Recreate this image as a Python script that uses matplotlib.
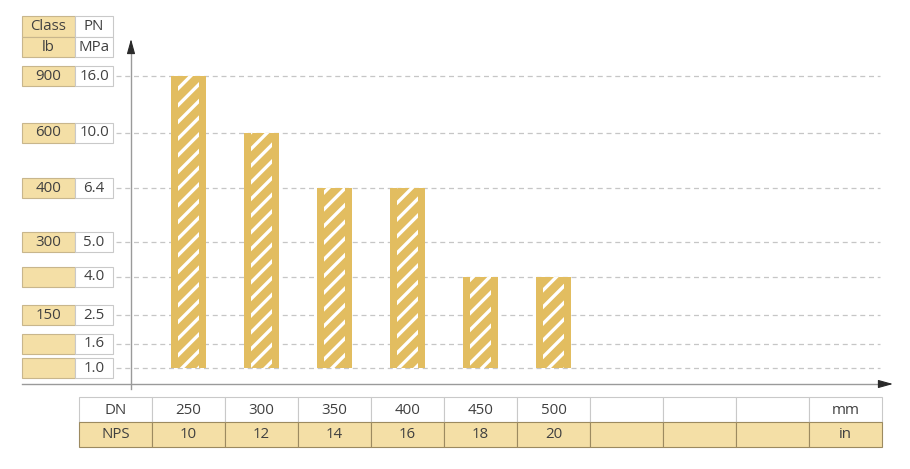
import matplotlib.pyplot as plt
from matplotlib.patches import Rectangle
from matplotlib.transforms import blended_transform_factory

plt.rcParams['font.family'] = ['Open Sans', 'DejaVu Sans']
plt.rcParams['hatch.linewidth'] = 2.4

# pressure levels (PN, MPa) and the matching ANSI class (lb)
pn_levels = ['1.0', '1.6', '2.5', '4.0', '5.0', '6.4', '10.0', '16.0']
class_lb = ['', '', '150', '', '300', '400', '600', '900']
# where each level sits on the chart (px above the x axis), it is not to scale
level_pos = [16, 40.5, 69, 107, 142, 196, 251, 307.5]

# nominal sizes
dn_mm = ['250', '300', '350', '400', '450', '500', '', '', '']
nps_in = ['10', '12', '14', '16', '18', '20', '', '', '']
# max pressure rating per size
bar_pn = ['16.0', '10.0', '6.4', '6.4', '4.0', '4.0']

BAR = '#e2bd60'
TAN = '#f4dfa6'
TXT = '#404040'
EDGE = '#c9c9c9'
FS = 10.8

W, H = 910, 469
fig = plt.figure(figsize=(W / 100, H / 100), dpi=100)

# main axes: one unit per table column on x, px on y
col_w, col0 = 73.0, 188.5
ax_l, ax_r, ax_b, ax_t = 131, 888, 384, 40
ax = fig.add_axes([ax_l / W, (H - ax_b) / H, (ax_r - ax_l) / W, (ax_b - ax_t) / H])
ax.set_xlim((ax_l - col0) / col_w, (ax_r - col0) / col_w)
ax.set_ylim(0, ax_b - ax_t)
ax.axis('off')

# overlay in figure pixels (y down) for tables and arrows
ov = fig.add_axes([0, 0, 1, 1])
ov.set_xlim(0, W)
ov.set_ylim(H, 0)
ov.axis('off')

tr_left = blended_transform_factory(ov.transData, ax.transData)
tr_bot = blended_transform_factory(ax.transData, ov.transData)

pos = dict(zip(pn_levels, level_pos))
base = pos['1.0']
xs = list(range(len(bar_pn)))
heights = [pos[v] - base for v in bar_pn]

# bars: solid body plus white stripes in the middle
ax.bar(xs, heights, bottom=base, width=0.47, color=BAR, lw=0, zorder=2)
ax.bar(xs, heights, bottom=base, width=0.30, color='none', edgecolor='white',
       hatch='//', lw=0, zorder=3)

# dashed level lines
for p in level_pos:
    ax.plot([116, 880], [p, p], transform=tr_left, ls=(0, (4, 3)), color='#c6c6c6',
            lw=0.9, zorder=1, clip_on=False)

# left table: class / PN
def cell(x, y, w, h, fc, ec, txt, tr, tc=TXT):
    ov.add_patch(Rectangle((x, y), w, h, transform=tr, fc=fc, ec=ec, lw=0.8, clip_on=False))
    if txt:
        ov.text(x + w / 2, y + h / 2, txt, transform=tr, ha='center', va='center',
                fontsize=FS, color=tc, clip_on=False)

cell(22, 16, 53, 21.5, TAN, '#c8b68c', 'Class', ov.transData)
cell(75, 16, 38, 21.5, 'white', EDGE, 'PN', ov.transData)
cell(22, 37.5, 53, 19.5, TAN, '#c8b68c', 'lb', ov.transData)
cell(75, 37.5, 38, 19.5, 'white', EDGE, 'MPa', ov.transData)

for lb, pn, p in zip(class_lb, pn_levels, level_pos):
    cell(22, p - 10, 53, 20, TAN, '#c8b68c', lb, tr_left)
    cell(75, p - 10, 38, 20, 'white', EDGE, pn, tr_left)

# bottom table: DN / NPS
row_dn = ['DN'] + dn_mm + ['mm']
row_nps = ['NPS'] + nps_in + ['in']
for i, (a, b) in enumerate(zip(row_dn, row_nps)):
    x = i - 1
    cell(x - 0.5, 397.5, 1, 25, 'white', EDGE, a, tr_bot)
    cell(x - 0.5, 422.5, 1, 25, TAN, '#9c8a60', b, tr_bot)

# axes with arrows
ov.plot([22, 884], [384, 384], color='#9a9a9a', lw=1.0)
ov.plot([131, 131], [389, 50], color='#9a9a9a', lw=1.0)
arrow = dict(arrowstyle='-|>,head_length=0.9,head_width=0.25', color='#2a2a2a',
             lw=0.8, shrinkA=0, shrinkB=0)
ov.annotate('', xy=(893, 384), xytext=(880, 384), arrowprops=arrow)
ov.annotate('', xy=(131, 39), xytext=(131, 52), arrowprops=arrow)

fig.savefig('out.png', dpi=100)
